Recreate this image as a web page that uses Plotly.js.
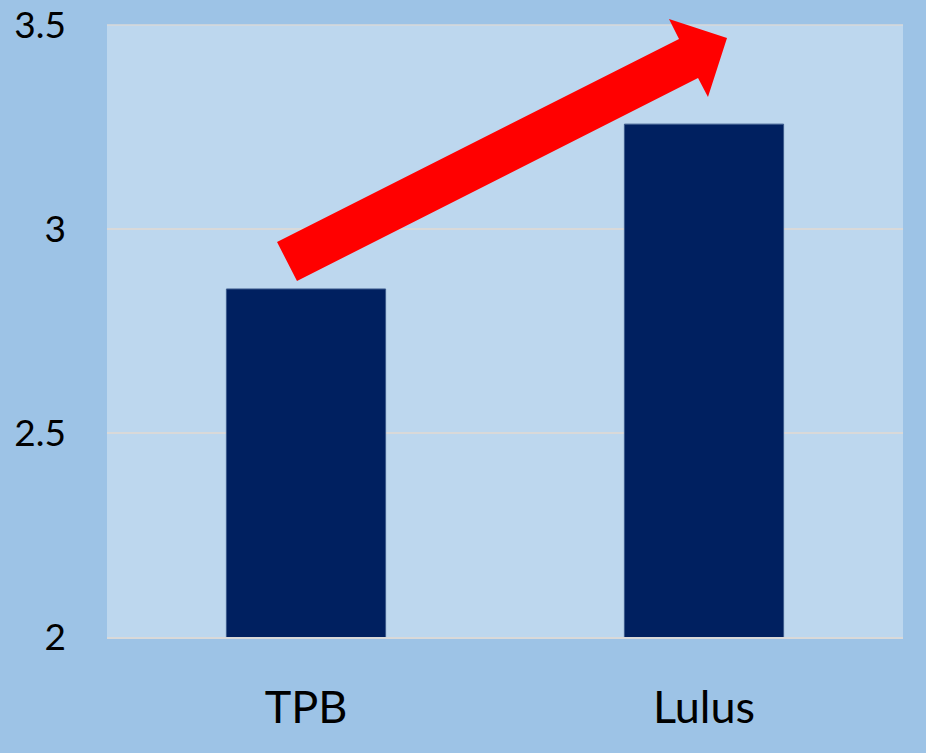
<!DOCTYPE html>
<html>
<head>
<meta charset="utf-8">
<script src="https://cdn.plot.ly/plotly-3.0.1.min.js"></script>
<style>html,body{margin:0;padding:0;background:#9dc3e6;}#chart{width:926px;height:753px;}</style>
</head>
<body>
<div id="chart"></div>
<script>
const categories = ["TPB", "Lulus"];
const values = [2.853, 3.257];
const yTicks = [2, 2.5, 3, 3.5];
const yTickLabels = ["2", "2.5", "3", "3.5"];

const W = 926, H = 753;
const M = {l: 107, r: 23, t: 25, b: 116};
const pw = W - M.l - M.r, ph = H - M.t - M.b;
// decorative arrow outline, in pixels of the figure
const arrowPx = [[277,242],[679,39],[669,19],[727,38],[708,97],[698,78],[297,281]];
const px2paper = p => [(p[0]-M.l)/pw, (H-M.b-p[1])/ph];
const arrowPath = 'M' + arrowPx.map(p => px2paper(p).map(v => v.toFixed(4)).join(',')).join(' L') + ' Z';

const data = [{
  type: 'bar',
  x: categories,
  y: values,
  marker: {color: '#002060', line: {color: '#3b5a8c', width: 1}},
  hoverinfo: 'skip'
}];

const layout = {
  width: W, height: H,
  margin: M,
  paper_bgcolor: '#9dc3e6',
  plot_bgcolor: '#bdd7ee',
  bargap: 0.6,
  showlegend: false,
  font: {family: 'Lato, "Open Sans", sans-serif', color: '#000000'},
  xaxis: {
    type: 'category',
    showgrid: false,
    showline: true, linecolor: '#d9d9d9', linewidth: 2,
    ticks: '',
    tickfont: {size: 45, color: '#000000'},
    ticklabelstandoff: 30,
    zeroline: false
  },
  yaxis: {
    range: [2, 3.5],
    tickvals: yTicks,
    ticktext: yTickLabels,
    showgrid: true, gridcolor: '#d9d9d9', gridwidth: 1.5,
    showline: false, zeroline: false,
    ticks: '',
    tickfont: {size: 37, color: '#000000'},
    ticklabelstandoff: 40
  },
  shapes: [{
    type: 'path', xref: 'paper', yref: 'paper',
    path: arrowPath,
    fillcolor: '#ff0000', line: {width: 0}, layer: 'above'
  },{
    type: 'line', xref: 'paper', yref: 'paper', x0: 0, x1: 1, y0: 1, y1: 1,
    line: {color: '#d9d9d9', width: 1.5}, layer: 'below'
  }]
};

Plotly.newPlot('chart', data, layout, {displayModeBar: false, staticPlot: true});
</script>
</body>
</html>
